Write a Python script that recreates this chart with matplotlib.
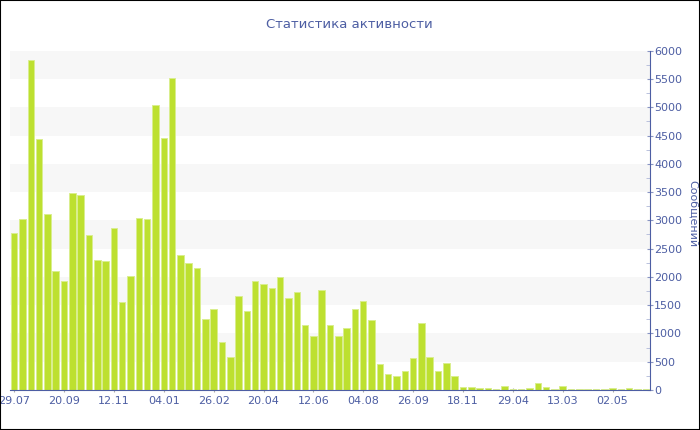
import matplotlib.pyplot as plt
from matplotlib.patches import Rectangle
from matplotlib.ticker import MultipleLocator

# Messages per period
values = [2770, 3030, 5835, 4440, 3110, 2100, 1920, 3490, 3440, 2735,
          2300, 2275, 2860, 1560, 2015, 3040, 3020, 5035, 4460, 5510,
          2385, 2250, 2165, 1250, 1426, 852, 584, 1668, 1397, 1921,
          1880, 1804, 1992, 1633, 1727, 1155, 955, 1768, 1149, 949,
          1096, 1438, 1574, 1244, 460, 289, 253, 330, 566, 1179,
          580, 336, 477, 242, 47, 53, 35, 29, 24, 71,
          18, 18, 41, 130, 47, 18, 71, 18, 18, 18,
          24, 18, 29, 18, 35, 18, 18]

tick_labels = ["29.07", "20.09", "12.11", "04.01", "26.02", "20.04", "12.06",
               "04.08", "26.09", "18.11", "29.04", "13.03", "02.05"]
label_step = 6

title = "Статистика активности"
y_title = "Сообщений"

text_color = "#4d5ea3"
bar_color = "#bde030"
band_color = "#f7f7f7"


def main():
    fig = plt.figure(figsize=(7, 4.3), dpi=100)
    ax = fig.add_axes([10 / 700, 40 / 430, 640 / 700, 339.3 / 430])

    # alternating background bands
    for lo in range(500, 6000, 1000):
        ax.axhspan(lo, lo + 500, color=band_color, zorder=0, lw=0)

    x = list(range(len(values)))
    ax.bar(x, values, width=0.78, color=bar_color, edgecolor="#d9ee8e",
           linewidth=0.7, zorder=2)

    ax.set_xlim(-0.5, len(values) - 0.5)
    ax.set_ylim(0, 6000)

    ticks = [i * label_step for i in range(len(tick_labels))]
    ax.set_xticks(ticks)
    ax.set_xticklabels(tick_labels, color=text_color, fontsize=8)
    ax.tick_params(axis="x", length=3, color="#aaaaaa", direction="inout", pad=3)

    ax.yaxis.tick_right()
    ax.yaxis.set_label_position("right")
    ax.yaxis.set_major_locator(MultipleLocator(500))
    ax.yaxis.set_minor_locator(MultipleLocator(250))
    ax.tick_params(axis="y", which="major", length=4, color="#8a96c4",
                   labelcolor=text_color, labelsize=8, pad=1, direction="inout")
    ax.tick_params(axis="y", which="minor", length=3, color="#b0b8d8",
                   direction="in")

    for side in ["top", "left"]:
        ax.spines[side].set_visible(False)
    ax.spines["right"].set_color(text_color)
    ax.spines["bottom"].set_color(text_color)

    ax.set_ylabel(y_title, color=text_color, fontsize=8, rotation=270,
                  labelpad=0)
    ax.yaxis.set_label_coords(1.075, 0.52)

    fig.text(0.499, 1 - 25 / 430, title, color=text_color, fontsize=9.5,
             ha="center", va="center")

    # outer frame
    fig.patches.append(Rectangle((0, 0), 1, 1, transform=fig.transFigure,
                                 fill=False, edgecolor="black", lw=1.5))

    fig.savefig("out.png", dpi=100)


if __name__ == "__main__":
    main()
